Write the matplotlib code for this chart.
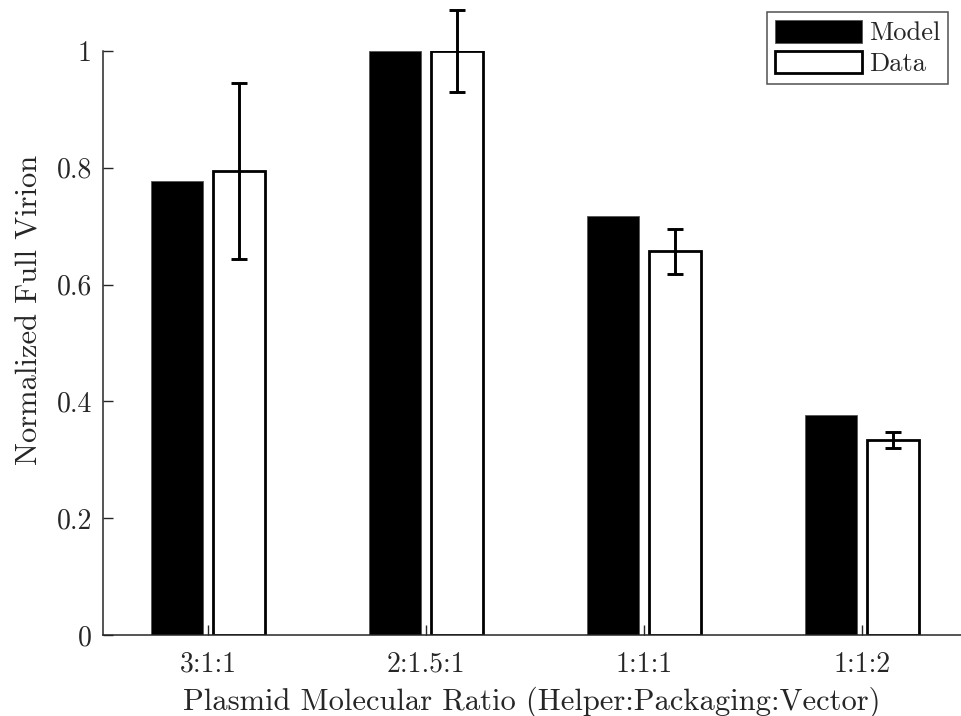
import numpy as np
import matplotlib.pyplot as plt

# Data
ratios = ['3:1:1', '2:1.5:1', '1:1:1', '1:1:2']
model = [0.777, 1.0, 0.718, 0.377]
data = [0.795, 1.0, 0.657, 0.334]
data_err = [0.151, 0.071, 0.039, 0.013]
ytick_vals = [0, 0.2, 0.4, 0.6, 0.8, 1]
ytick_labels = ['0', '0.2', '0.4', '0.6', '0.8', '1']

plt.rcParams['font.family'] = ['cmr10', 'DejaVu Serif']
plt.rcParams['axes.formatter.use_mathtext'] = True
dark = '#262626'

fig = plt.figure(figsize=(9.61, 7.16), dpi=100)
ax = fig.add_axes([103 / 961, 1 - 635 / 716, 1 - 103 / 961, (635 - 51) / 716])

x = np.arange(1, len(ratios) + 1)
w = 0.24
off = 0.143

ax.bar(x - off, model, w, color='black', edgecolor='#555555', linewidth=0.6, label='Model')
ax.bar(x + off, data, w, color='white', edgecolor='black', linewidth=2.0, label='Data')
ax.errorbar(x + off, data, yerr=data_err, fmt='none', ecolor='black',
            elinewidth=2.1, capsize=6, capthick=2.1, clip_on=False)

ax.set_xlim(0.518, 4.454)
ax.set_ylim(0, 1)
ax.set_xticks(x)
ax.set_xticklabels(ratios)
ax.set_yticks(ytick_vals)
ax.set_yticklabels(ytick_labels)

for s in ['top', 'right']:
    ax.spines[s].set_visible(False)
for s in ['left', 'bottom']:
    ax.spines[s].set_color(dark)
    ax.spines[s].set_linewidth(1.1)

ax.tick_params(axis='both', direction='in', length=7, width=1.0, color=dark,
               labelsize=20, labelcolor=dark, pad=8)
ax.tick_params(axis='x', pad=12)

ax.set_xlabel('Plasmid Molecular Ratio (Helper:Packaging:Vector)', fontsize=22, color=dark, labelpad=6)
ax.set_ylabel('Normalized Full Virion', fontsize=22, color=dark)
ax.yaxis.set_label_coords(-0.069, 0.556)

leg = ax.legend(loc='upper right', bbox_to_anchor=(948 / 961, 1 - 12 / 716),
                bbox_transform=fig.transFigure, borderaxespad=0, fontsize=19,
                handlelength=3.3, handleheight=0.95, handletextpad=0.25,
                labelspacing=0.2, borderpad=0.3, fancybox=False)
leg.get_frame().set_edgecolor(dark)
leg.get_frame().set_linewidth(1.1)
for t in leg.get_texts():
    t.set_color(dark)

fig.savefig('out.png', dpi=100)
